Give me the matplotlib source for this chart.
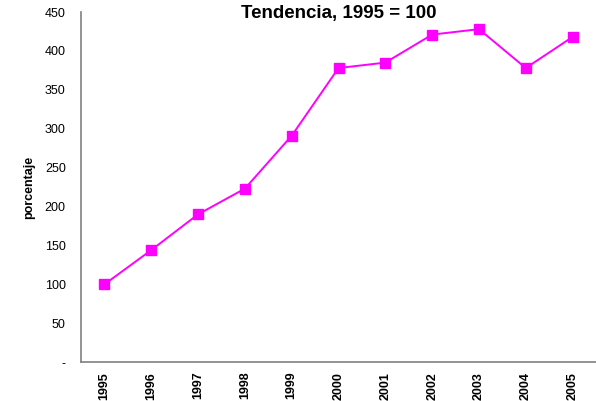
import matplotlib
matplotlib.use("Agg")
import matplotlib.pyplot as plt

years = ["1995", "1996", "1997", "1998", "1999", "2000",
         "2001", "2002", "2003", "2004", "2005"]
tendencia = [100, 144, 190, 223, 291, 378, 385, 421, 428, 378, 418]
yticks = [0, 50, 100, 150, 200, 250, 300, 350, 400, 450]
ytick_labels = ["-", "50", "100", "150", "200", "250", "300", "350", "400", "450"]

plt.rcParams['font.family'] = ['Liberation Sans', 'DejaVu Sans']

fig = plt.figure(figsize=(5.96, 4.01), dpi=100)
ax = fig.add_axes([0.136, 0.097, 0.864, 0.873])

x = list(range(len(years)))
ax.plot(x, tendencia, color='#FF00FF', linewidth=1.4, marker='s',
        markersize=7.5, markeredgecolor='#FF00FF', markerfacecolor='#FF00FF',
        clip_on=False)

ax.set_xlim(-0.5, len(years) - 0.5)
ax.set_ylim(0, 450)
ax.set_xticks(x)
ax.set_xticklabels(years, rotation=90, fontweight='bold', fontsize=9)
ax.set_yticks(yticks)
ax.set_yticklabels(ytick_labels, fontsize=9)
ax.tick_params(axis='y', length=0, pad=11)
ax.tick_params(axis='x', length=0, pad=7)

for side in ['top', 'right']:
    ax.spines[side].set_visible(False)
for side in ['left', 'bottom']:
    ax.spines[side].set_color('#808080')
    ax.spines[side].set_linewidth(1.2)

ax.set_ylabel("porcentaje", fontsize=9, fontweight='bold', labelpad=7)
title = ax.text(0.5, 0.995, "Tendencia, 1995 = 100", transform=ax.transAxes,
                ha='center', va='center', fontsize=13.5, fontweight='bold')

fig.savefig("out.png", dpi=100)
